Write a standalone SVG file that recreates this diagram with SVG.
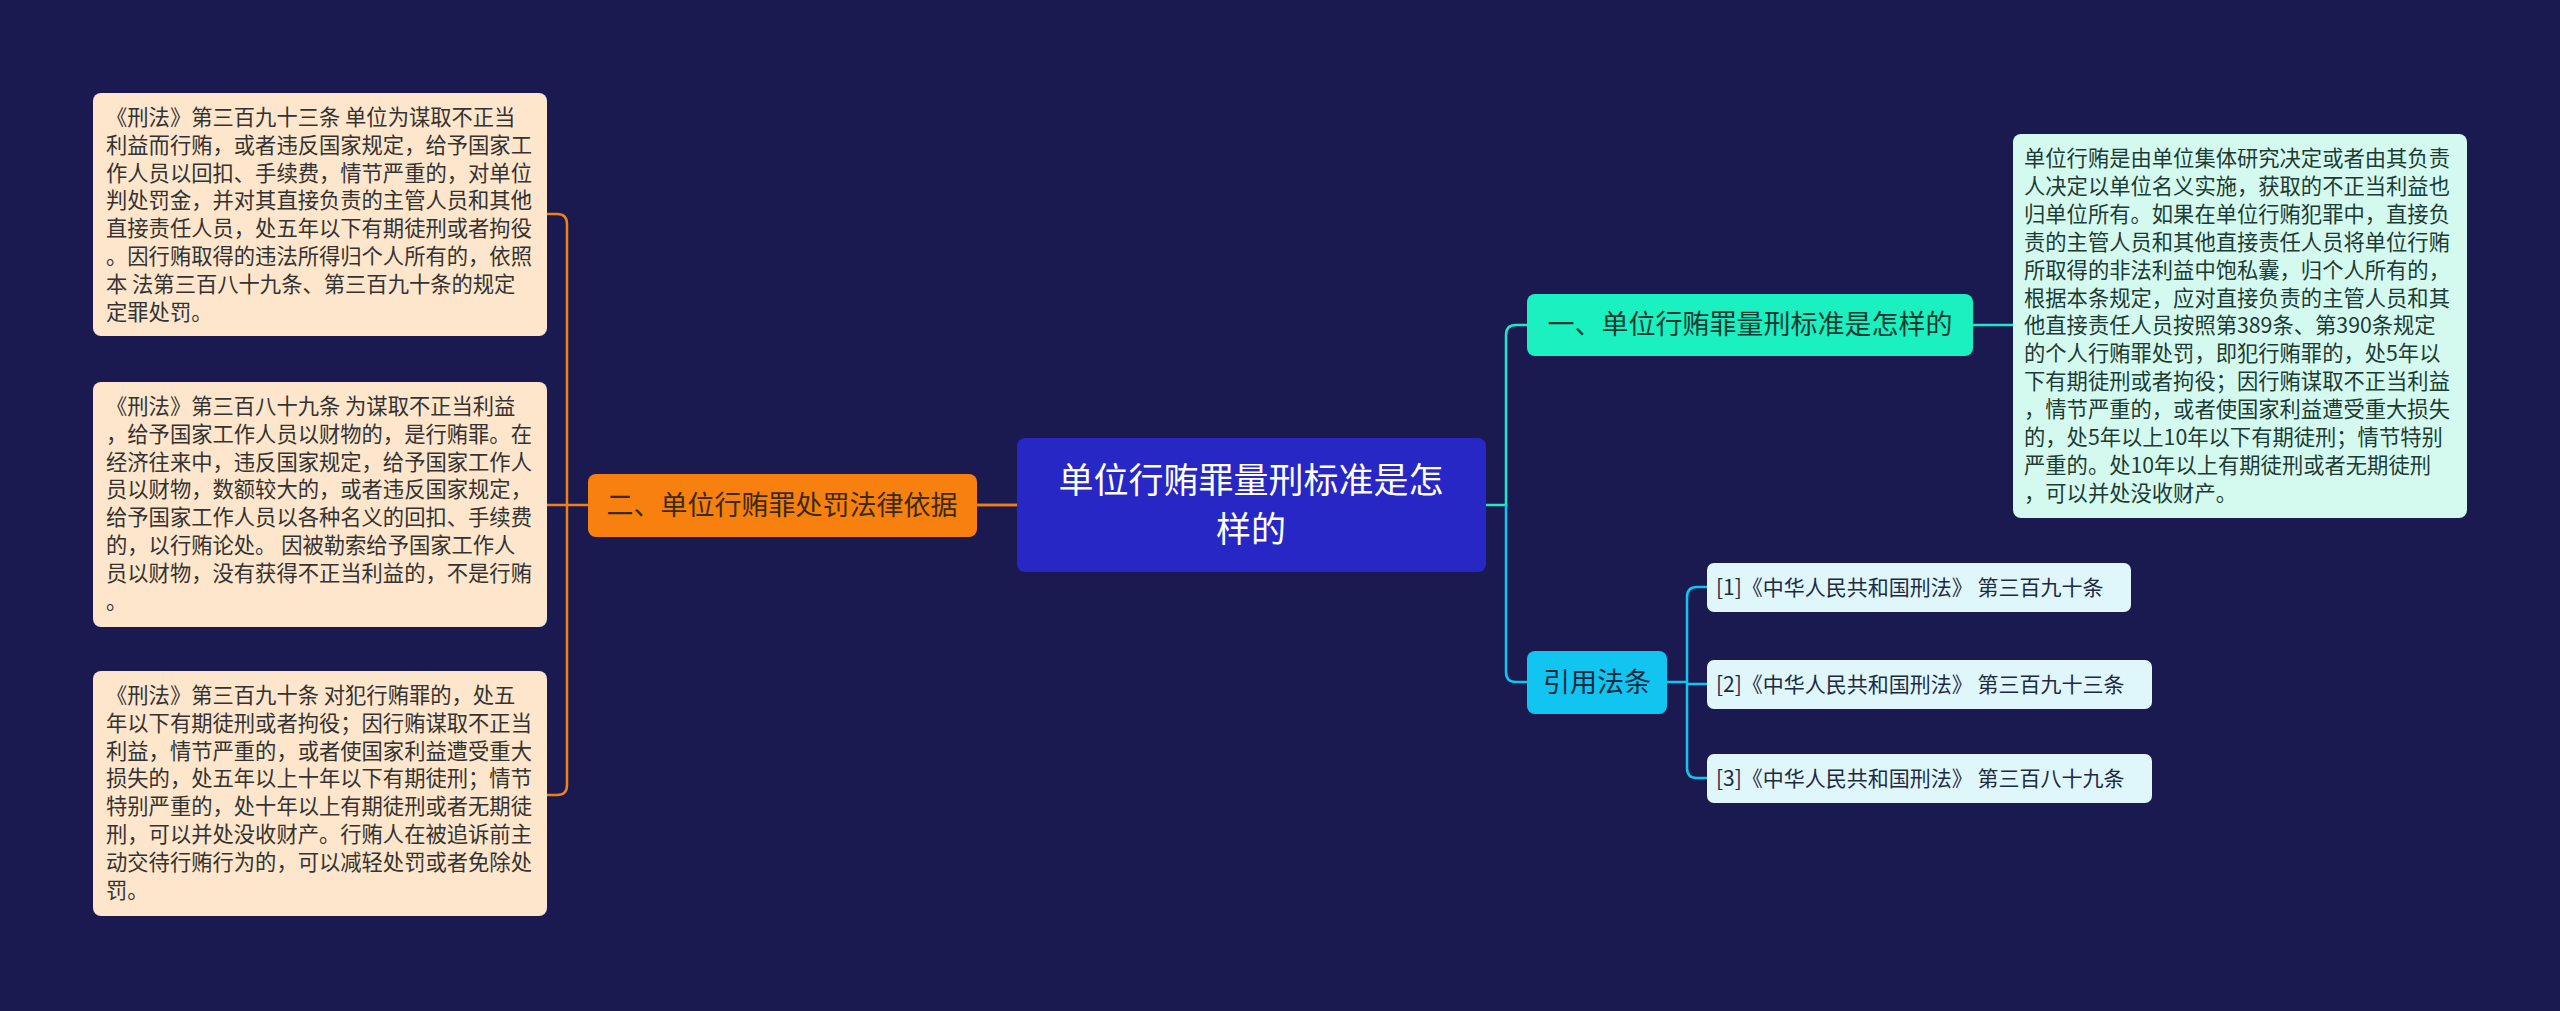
<svg xmlns="http://www.w3.org/2000/svg" width="2560" height="1011" viewBox="0 0 2560 1011">
<style>
text{font-family:"Noto Sans CJK SC","Noto Sans",sans-serif}
.leaf{fill:#fde6cc}
.lt{font-size:21.3px;fill:#333333}
.rt{font-size:21.3px;fill:#1e3a34}
.ref{fill:#dff6fb}
.rf{font-size:21px;fill:#1e2a40}
.c{fill:none;stroke-width:2.5}
</style>
<rect width="2560" height="1011" fill="#1a1a50"/>
<g id="connectors">
<path class="c" stroke="#f07f14" d="M1017,505 H977 M588,505 H567 M567,505 V224 Q567,214 557,214 H547 M567,505 V785 Q567,795 557,795 H547 M567,505 H547"/>
<path class="c" stroke="#f07f14" d="M977,505 H1486"/>
<path class="c" stroke="#1de9c8" d="M1486,505 H1506 V335 Q1506,325 1516,325 H1527 M1973,325 H2013"/>
<path class="c" stroke="#12c5f0" d="M1506,505 V672 Q1506,682 1516,682 H1527"/>
<path class="c" stroke="#12c5f0" d="M1667,682 H1687 M1687,682 V597 Q1687,587 1697,587 H1707 M1687,682 V768 Q1687,778 1697,778 H1707 M1687,684 H1707"/>
</g>
<g id="root">
<rect x="1017" y="438" width="469" height="134" rx="8" fill="#2727c6"/>
<text x="1251" y="493" font-size="35" fill="#ffffff" text-anchor="middle">单位行贿罪量刑标准是怎</text>
<text x="1251" y="542" font-size="35" fill="#ffffff" text-anchor="middle">样的</text>
</g>
<g id="n2">
<rect x="588" y="474" width="389" height="63" rx="8" fill="#f7800e"/>
<text x="782" y="515" font-size="27" fill="#3a2a10" text-anchor="middle">二、单位行贿罪处罚法律依据</text>
</g>
<g id="n1">
<rect x="1527" y="294" width="446" height="62" rx="8" fill="#1af0c0"/>
<text x="1750" y="334" font-size="27" fill="#123a33" text-anchor="middle">一、单位行贿罪量刑标准是怎样的</text>
</g>
<g id="nref">
<rect x="1527" y="651" width="140" height="63" rx="8" fill="#12c5f0"/>
<text x="1597" y="692" font-size="27" fill="#0d2a40" text-anchor="middle">引用法条</text>
</g>
<g id="leaf1">
<rect class="leaf" x="93" y="93" width="454" height="243" rx="8"/>
<text class="lt" x="106" y="125">
<tspan x="106">《刑法》第三百九十三条 单位为谋取不正当</tspan>
<tspan x="106" dy="27.8">利益而行贿，或者违反国家规定，给予国家工</tspan>
<tspan x="106" dy="27.8">作人员以回扣、手续费，情节严重的，对单位</tspan>
<tspan x="106" dy="27.8">判处罚金，并对其直接负责的主管人员和其他</tspan>
<tspan x="106" dy="27.8">直接责任人员，处五年以下有期徒刑或者拘役</tspan>
<tspan x="106" dy="27.8">。因行贿取得的违法所得归个人所有的，依照</tspan>
<tspan x="106" dy="27.8">本 法第三百八十九条、第三百九十条的规定</tspan>
<tspan x="106" dy="27.8">定罪处罚。</tspan>
</text>
</g>
<g id="leaf2">
<rect class="leaf" x="93" y="382" width="454" height="245" rx="8"/>
<text class="lt" x="106" y="414">
<tspan x="106">《刑法》第三百八十九条 为谋取不正当利益</tspan>
<tspan x="106" dy="27.8">，给予国家工作人员以财物的，是行贿罪。在</tspan>
<tspan x="106" dy="27.8">经济往来中，违反国家规定，给予国家工作人</tspan>
<tspan x="106" dy="27.8">员以财物，数额较大的，或者违反国家规定，</tspan>
<tspan x="106" dy="27.8">给予国家工作人员以各种名义的回扣、手续费</tspan>
<tspan x="106" dy="27.8">的，以行贿论处。 因被勒索给予国家工作人</tspan>
<tspan x="106" dy="27.8">员以财物，没有获得不正当利益的，不是行贿</tspan>
<tspan x="106" dy="27.8">。</tspan>
</text>
</g>
<g id="leaf3">
<rect class="leaf" x="93" y="671" width="454" height="245" rx="8"/>
<text class="lt" x="106" y="703">
<tspan x="106">《刑法》第三百九十条 对犯行贿罪的，处五</tspan>
<tspan x="106" dy="27.8">年以下有期徒刑或者拘役；因行贿谋取不正当</tspan>
<tspan x="106" dy="27.8">利益，情节严重的，或者使国家利益遭受重大</tspan>
<tspan x="106" dy="27.8">损失的，处五年以上十年以下有期徒刑；情节</tspan>
<tspan x="106" dy="27.8">特别严重的，处十年以上有期徒刑或者无期徒</tspan>
<tspan x="106" dy="27.8">刑，可以并处没收财产。行贿人在被追诉前主</tspan>
<tspan x="106" dy="27.8">动交待行贿行为的，可以减轻处罚或者免除处</tspan>
<tspan x="106" dy="27.8">罚。</tspan>
</text>
</g>
<g id="leafR">
<rect x="2013" y="134" width="454" height="384" rx="8" fill="#d4faf0"/>
<text class="rt" x="2024" y="166">
<tspan x="2024">单位行贿是由单位集体研究决定或者由其负责</tspan>
<tspan x="2024" dy="27.9">人决定以单位名义实施，获取的不正当利益也</tspan>
<tspan x="2024" dy="27.9">归单位所有。如果在单位行贿犯罪中，直接负</tspan>
<tspan x="2024" dy="27.9">责的主管人员和其他直接责任人员将单位行贿</tspan>
<tspan x="2024" dy="27.9">所取得的非法利益中饱私囊，归个人所有的，</tspan>
<tspan x="2024" dy="27.9">根据本条规定，应对直接负责的主管人员和其</tspan>
<tspan x="2024" dy="27.9">他直接责任人员按照第389条、第390条规定</tspan>
<tspan x="2024" dy="27.9">的个人行贿罪处罚，即犯行贿罪的，处5年以</tspan>
<tspan x="2024" dy="27.9">下有期徒刑或者拘役；因行贿谋取不正当利益</tspan>
<tspan x="2024" dy="27.9">，情节严重的，或者使国家利益遭受重大损失</tspan>
<tspan x="2024" dy="27.9">的，处5年以上10年以下有期徒刑；情节特别</tspan>
<tspan x="2024" dy="27.9">严重的。处10年以上有期徒刑或者无期徒刑</tspan>
<tspan x="2024" dy="27.9">，可以并处没收财产。</tspan>
</text>
</g>
<g id="ref1">
<rect class="ref" x="1707" y="563" width="424" height="49" rx="7"/>
<text class="rf" x="1716" y="595">[1]《中华人民共和国刑法》 第三百九十条</text>
</g>
<g id="ref2">
<rect class="ref" x="1707" y="660" width="445" height="49" rx="7"/>
<text class="rf" x="1716" y="692">[2]《中华人民共和国刑法》 第三百九十三条</text>
</g>
<g id="ref3">
<rect class="ref" x="1707" y="754" width="445" height="49" rx="7"/>
<text class="rf" x="1716" y="786">[3]《中华人民共和国刑法》 第三百八十九条</text>
</g>
</svg>
